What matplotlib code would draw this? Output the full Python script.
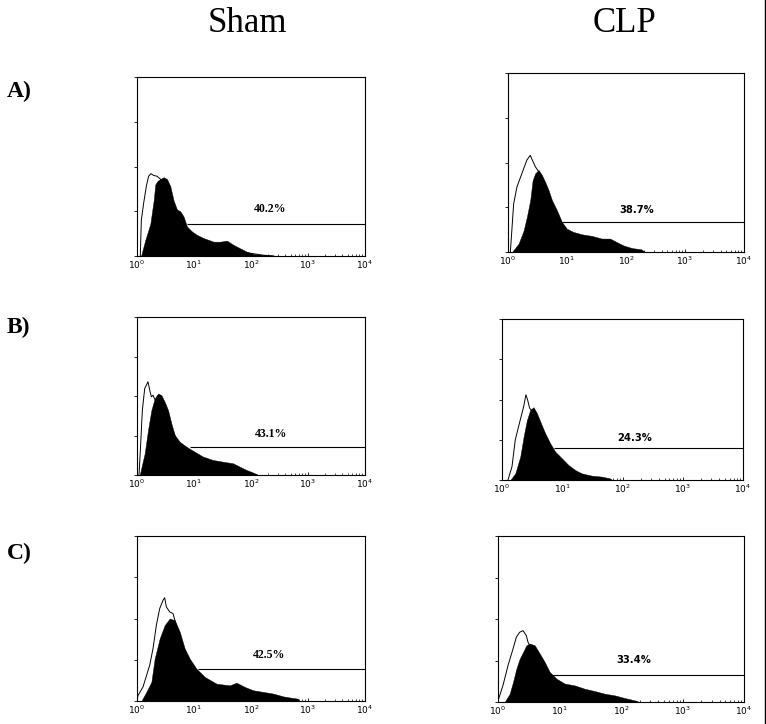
import numpy as np
import matplotlib
matplotlib.use("Agg")
import matplotlib.pyplot as plt
from matplotlib.lines import Line2D

# x values are log10 fluorescence (decades), y values are counts (axis 0-100)

# A) Sham
a_sham_open_x = [0.058, 0.076, 0.117, 0.164, 0.204, 0.245, 0.292, 0.35, 0.409, 0.526, 0.642, 0.759, 0.876, 1.05, 1.3, 1.6, 1.9, 2.2, 2.4]
a_sham_open_y = [0, 20, 29.6, 39, 44.6, 46, 45, 44.6, 43, 38, 26, 18, 12, 9, 6, 5, 2, 0.5, 0]
a_sham_fill_x = [0.07, 0.146, 0.234, 0.292, 0.321, 0.362, 0.409, 0.467, 0.526, 0.584, 0.642, 0.701, 0.759, 0.818, 0.876, 0.964, 1.051, 1.168, 1.343, 1.46, 1.577, 1.693, 1.81, 1.927, 2.044, 2.336, 2.453]
a_sham_fill_y = [0, 9, 18, 31, 40, 42, 43, 44, 43, 39, 31, 26, 25, 22, 16.5, 13.7, 11.8, 10, 8, 8, 8.6, 6.2, 4.3, 2.4, 1.1, 0.4, 0]

# A) CLP
a_clp_open_x = [0.04, 0.096, 0.152, 0.237, 0.32, 0.377, 0.417, 0.462, 0.518, 0.6, 0.7, 0.8, 0.9, 1.1, 1.4, 1.7, 2.0, 2.3]
a_clp_open_y = [0, 27, 36.4, 44, 51.4, 54, 51, 47.7, 45, 38, 30, 22, 15, 9, 6, 4, 1, 0]
a_clp_fill_x = [0.068, 0.18, 0.265, 0.32, 0.377, 0.417, 0.462, 0.518, 0.575, 0.631, 0.687, 0.744, 0.828, 0.913, 0.997, 1.11, 1.25, 1.42, 1.59, 1.73, 1.84, 1.955, 2.1, 2.26, 2.32]
a_clp_fill_y = [0, 4.7, 12, 19.6, 29, 40, 44, 45.8, 43, 39, 34.6, 29, 23.4, 16.8, 13, 11.2, 9.9, 9, 7.5, 7.5, 5.6, 3.7, 2.2, 1.5, 0]

# B) Sham
b_sham_open_x = [0.035, 0.059, 0.094, 0.135, 0.193, 0.223, 0.252, 0.281, 0.31, 0.4, 0.5, 0.6, 0.75, 0.9, 1.1, 1.4, 1.7, 2.0, 2.1]
b_sham_open_y = [0, 15.8, 41, 54.7, 59, 53.7, 49.5, 50.5, 48, 46, 40, 30, 18, 14, 10, 7, 5, 1, 0]
b_sham_fill_x = [0.047, 0.135, 0.193, 0.252, 0.31, 0.369, 0.428, 0.486, 0.545, 0.603, 0.662, 0.75, 0.867, 1.013, 1.16, 1.335, 1.51, 1.687, 1.8, 1.92, 2.04, 2.13]
b_sham_fill_y = [0, 13.7, 28.4, 41, 48.4, 51.6, 50.5, 46.3, 41, 32.6, 25.3, 21, 17.9, 14.7, 11.6, 9.5, 8.4, 7.4, 5.3, 3.2, 1.5, 0]

# B) CLP
b_clp_open_x = [0.099, 0.166, 0.22, 0.303, 0.359, 0.397, 0.425, 0.458, 0.497, 0.58, 0.7, 0.85, 1.0, 1.2, 1.45, 1.7, 1.8]
b_clp_open_y = [0, 8.3, 24.9, 37.3, 45.6, 52.9, 49.8, 44.6, 43, 38, 26, 16, 11, 5, 2, 0.5, 0]
b_clp_fill_x = [0.138, 0.22, 0.303, 0.359, 0.414, 0.469, 0.524, 0.579, 0.635, 0.717, 0.8, 0.883, 0.993, 1.103, 1.214, 1.324, 1.49, 1.655, 1.793, 1.83]
b_clp_fill_y = [0, 4.1, 14.5, 27, 37.3, 43.6, 45.2, 41.5, 36.3, 29, 22.8, 17.6, 13.5, 9.3, 6.2, 4.1, 2.7, 2.1, 1, 0]

# C) Sham
c_sham_open_x = [0.0, 0.018, 0.105, 0.223, 0.281, 0.34, 0.398, 0.457, 0.486, 0.515, 0.574, 0.632, 0.68, 0.75, 0.85, 1.0, 1.2, 1.5, 1.8, 2.1, 2.5, 2.8]
c_sham_open_y = [0, 3.4, 8.5, 21.7, 31.8, 46, 56, 61.1, 62.6, 57, 54, 53, 47, 39, 29, 20, 13, 8, 7, 4, 1.5, 0]
c_sham_fill_x = [0.076, 0.164, 0.252, 0.31, 0.398, 0.486, 0.574, 0.662, 0.75, 0.837, 0.925, 1.042, 1.189, 1.394, 1.628, 1.745, 1.892, 2.038, 2.214, 2.389, 2.565, 2.741, 2.829, 2.84]
c_sham_fill_y = [0, 5.5, 11.5, 25.7, 37.9, 46, 50, 49, 41.9, 31.8, 25.7, 19.6, 14.6, 10.5, 9.5, 11.1, 8.5, 6.5, 5.5, 4.5, 2.8, 1.8, 1.4, 0]

# C) CLP
c_clp_open_x = [0.0, 0.011, 0.081, 0.163, 0.244, 0.298, 0.352, 0.407, 0.461, 0.488, 0.55, 0.65, 0.75, 0.9, 1.1, 1.4, 1.7, 2.0, 2.25]
c_clp_open_y = [0, 2, 10, 22, 32, 39, 42, 43, 40, 36, 32, 27, 21, 13, 9, 6, 3, 1, 0]
c_clp_fill_x = [0.108, 0.19, 0.244, 0.298, 0.352, 0.407, 0.461, 0.515, 0.596, 0.678, 0.759, 0.84, 0.949, 1.084, 1.247, 1.409, 1.572, 1.734, 1.897, 2.06, 2.222, 2.304]
c_clp_fill_y = [0, 5, 12, 20, 26, 30, 34.2, 35.2, 34.2, 29.2, 24.1, 18.1, 14.1, 11.1, 10, 8, 6.6, 5, 4, 2.4, 1, 0]

# marker gates: start (decades), level, label
gate_start = [0.877, 0.913, 0.925, 0.855, 1.07, 0.867]
gate_level = [18, 16.8, 17.5, 19.7, 19.6, 16.5]
gate_labels = ["40.2%", "38.7%", "43.1%", "24.3%", "42.5%", "33.4%"]
label_x = [2.33, 2.18, 2.36, 2.2, 2.31, 2.21]
label_y = [26, 23.4, 25.9, 26.3, 28.1, 25.6]

col_titles = ["Sham", "CLP"]
row_labels = ["A)", "B)", "C)"]

W, H = 766, 724
fig = plt.figure(figsize=(W / 100, H / 100), dpi=100)

# panel boxes in pixels: left, right, top, bottom
boxes = [(137, 365, 77, 256), (508, 744, 73, 252),
         (137, 365, 317, 475), (502, 743, 319, 480),
         (137, 365, 536, 701), (498, 744, 536, 702)]

curves = [
    (a_sham_open_x, a_sham_open_y, a_sham_fill_x, a_sham_fill_y),
    (a_clp_open_x, a_clp_open_y, a_clp_fill_x, a_clp_fill_y),
    (b_sham_open_x, b_sham_open_y, b_sham_fill_x, b_sham_fill_y),
    (b_clp_open_x, b_clp_open_y, b_clp_fill_x, b_clp_fill_y),
    (c_sham_open_x, c_sham_open_y, c_sham_fill_x, c_sham_fill_y),
    (c_clp_open_x, c_clp_open_y, c_clp_fill_x, c_clp_fill_y),
]

for i, (box, cv) in enumerate(zip(boxes, curves)):
    l, r, t, b = box
    ax = fig.add_axes([l / W, 1 - b / H, (r - l) / W, (b - t) / H])
    ox, oy, fx, fy = cv
    ox = 10 ** np.array(ox)
    fx = 10 ** np.array(fx)
    ax.fill_between(ox, oy, color="white", zorder=1)
    ax.plot(ox, oy, color="black", lw=0.7, zorder=2)
    ax.hlines(gate_level[i], 10 ** gate_start[i], 1e4, color="black", lw=0.8, zorder=2)
    ax.fill_between(fx, fy, color="black", lw=0.3, zorder=3)
    if i % 2 == 0:
        ax.text(10 ** label_x[i], label_y[i], gate_labels[i], ha="center", va="center",
                fontsize=8.5, fontweight="bold", family="Liberation Serif")
    else:
        ax.text(10 ** label_x[i], label_y[i], gate_labels[i], ha="center", va="center",
                fontsize=7.2, fontweight="bold", family="DejaVu Sans")
    ax.set_xscale("log")
    ax.set_xlim(1, 1e4)
    ax.set_ylim(0, 100)
    ax.set_yticks([0, 25, 50, 75, 100])
    ax.set_yticklabels([])
    ax.set_xticks([1, 10, 100, 1000, 10000])
    ax.tick_params(axis="y", direction="out", length=2.5, width=0.6)
    ax.tick_params(axis="x", which="major", direction="in", length=2.5, width=0.6,
                   labelsize=6.5, pad=2)
    ax.tick_params(axis="x", which="minor", direction="in", length=1.5, width=0.5)
    for s in ax.spines.values():
        s.set_linewidth(0.8)

# column titles and row labels
fig.text(247 / W, 1 - 24 / H, col_titles[0], ha="center", va="center",
         fontsize=25, family="Liberation Serif")
fig.text(625 / W, 1 - 24 / H, col_titles[1], ha="center", va="center",
         fontsize=25, family="Liberation Serif")
for lab, yp in zip(row_labels, [91, 327, 553]):
    fig.text(7 / W, 1 - yp / H, lab, ha="left", va="center",
             fontsize=17, fontweight="bold", family="Liberation Serif")

fig.add_artist(Line2D([764.5 / W, 764.5 / W], [0, 1], color="black", lw=1.0))

fig.savefig("out.png", dpi=100)
